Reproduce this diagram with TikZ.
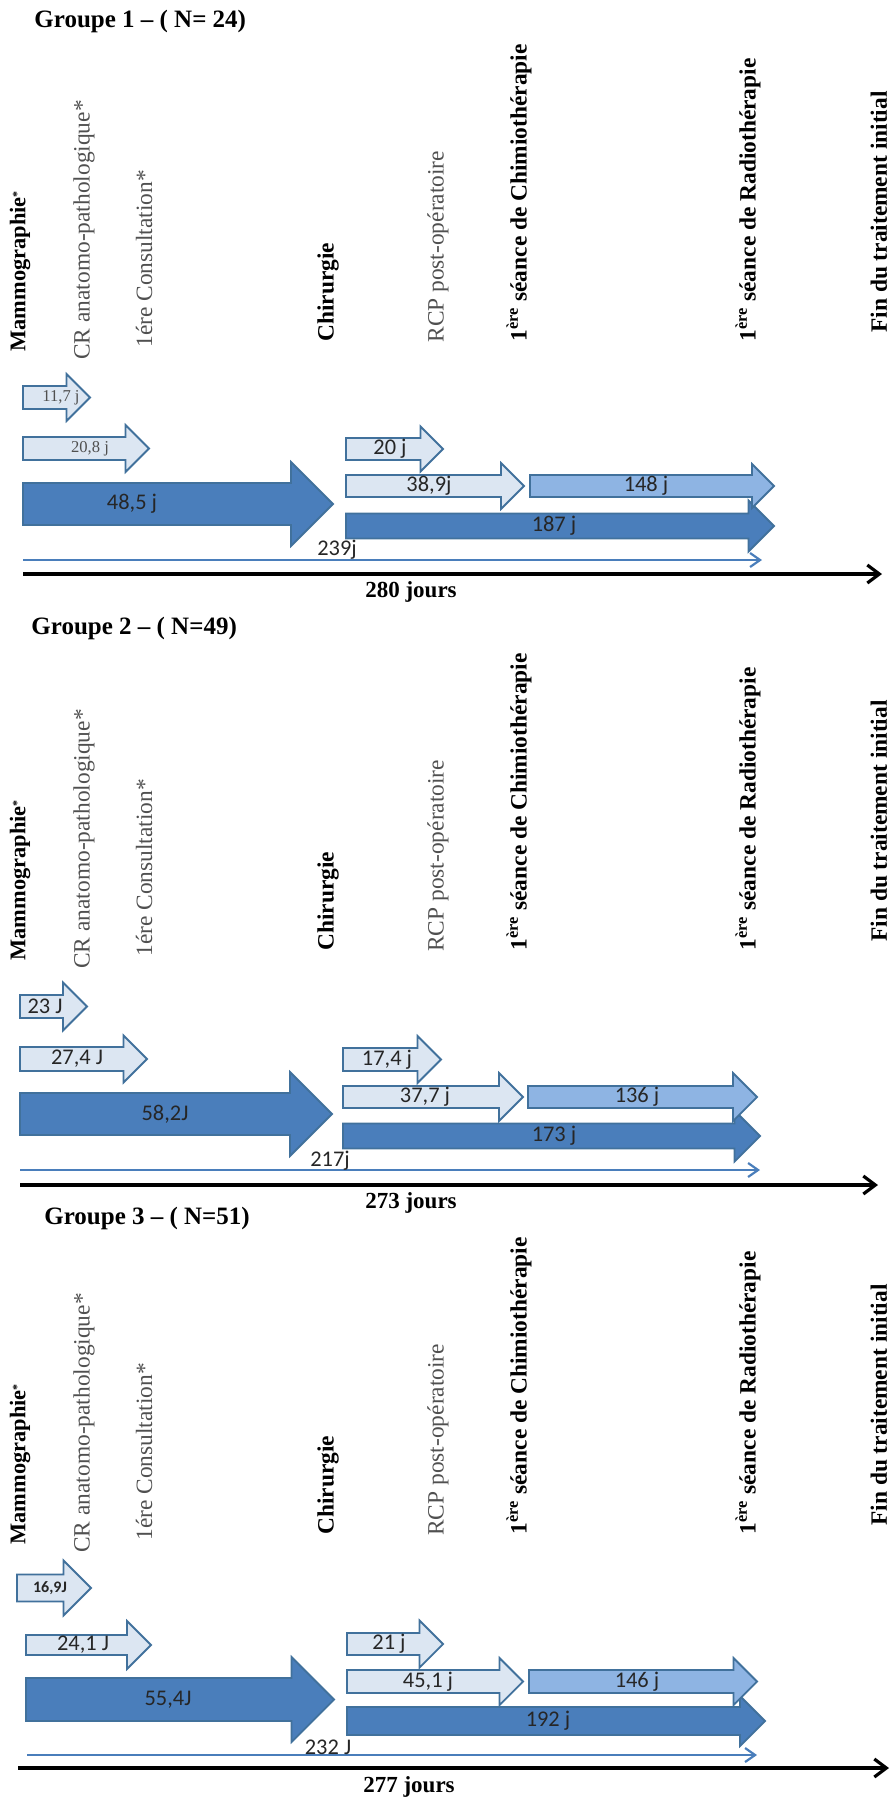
\documentclass[tikz,border=0pt]{standalone}
\usepackage{fontspec}
\setmainfont{Liberation Serif}
\newfontfamily\calibri{Carlito}
\usepackage{tikz}
\usetikzlibrary{arrows.meta}
\usepackage{xcolor}

\definecolor{bleuclair}{HTML}{DCE6F2}
\definecolor{bleumoyen}{HTML}{8EB4E3}
\definecolor{bleufonce}{HTML}{4A7EBB}
\definecolor{bord}{HTML}{41719C}
\definecolor{gristexte}{HTML}{505050}

% block arrow: name, style, start, tip, centre y, half shaft, half head, label x, label
\newcommand{\fleche}[9]{%
  \draw[#2] (#3,#5-#6) -- (#4-#7,#5-#6) -- (#4-#7,#5-#7) -- (#4,#5)
    -- (#4-#7,#5+#7) -- (#4-#7,#5+#6) -- (#3,#5+#6) -- cycle;
  \node[duree] (#1) at (#8,#5) {#9};}
\newcommand{\serifpetit}{\rmfamily\fontsize{8.3}{9}\selectfont\color{gristexte}}

\begin{document}
\begin{tikzpicture}[x=0.5pt, y=-0.5pt]
      \tikzstyle{claire} = [draw=bord, fill=bleuclair, line width=0.9pt]
      \tikzstyle{moyenne} = [draw=bord, fill=bleumoyen, line width=0.9pt]
      \tikzstyle{foncee} = [draw=bord, fill=bleufonce, line width=0.9pt]
      \tikzstyle{duree} = [inner sep=0pt, font=\calibri\fontsize{11.2}{12}\selectfont, text=black!85]
      \tikzstyle{etape} = [rotate=90, anchor=west, inner sep=0pt, font=\fontsize{11.7}{12}\selectfont]
      \tikzstyle{titre} = [anchor=west, inner sep=0pt, font=\bfseries\fontsize{12.5}{13}\selectfont]
      \tikzstyle{total} = [inner sep=0pt, font=\bfseries\fontsize{11.5}{12}\selectfont]
      \tikzstyle{ligne} = [draw=bleufonce, line width=1.1pt, -{Straight Barb[length=5pt,width=7pt]}]
      \tikzstyle{axe} = [draw=black, line width=1.6pt, -{Straight Barb[length=6pt,width=9pt]}]

      \useasboundingbox (0,0) rectangle (893,1800);

      % etapes
      \foreach \g/\dy in {A/0, B/609, C/1193} {
        \node[etape] (mammo\g) at (20,352+\dy) {\bfseries\fontsize{11.2}{12}\selectfont Mammographie{\fontsize{6}{6}\selectfont\raisebox{0.8ex}{*}}};
        \node[etape, text=gristexte] (cr\g) at (84,360+\dy) {CR anatomo-pathologique*};
        \node[etape, text=gristexte] (consult\g) at (144,348+\dy) {1ére Consultation*};
        \node[etape] (chir\g) at (328,342+\dy) {\bfseries Chirurgie};
        \node[etape, text=gristexte] (rcp\g) at (438,343+\dy) {RCP post-opératoire};
        \node[etape] (chimio\g) at (519,342+\dy) {\bfseries 1\textsuperscript{ère} séance de Chimiothérapie};
        \node[etape] (radio\g) at (748,342+\dy) {\bfseries 1\textsuperscript{ère} séance de Radiothérapie};
        \node[etape] (fin\g) at (879,333+\dy) {\bfseries Fin du traitement initial};
      }

      % groupe 1
      \node[titre] (titreA) at (34,21) {Groupe 1 – ( N= 24)};
      \fleche{mammochirA}{foncee}{23}{333}{504}{21}{42}{132}{48,5 j}
      \fleche{chirradioA}{foncee}{346}{774}{526}{12.5}{25.5}{554}{187 j}
      \fleche{chimioradioA}{moyenne}{530}{774}{486}{11}{22}{646}{148 j}
      \fleche{chirchimioA}{claire}{346}{524}{486}{11}{23}{429}{38,9j}
      \fleche{chirrcpA}{claire}{346}{443}{449}{11}{22.5}{390}{20 j}
      \fleche{mammoconsA}{claire}{23}{149}{448.5}{11.5}{23.5}{90}{\serifpetit 20,8 j}
      \fleche{mammocrA}{claire}{23}{90}{397.5}{11.5}{23.5}{61}{\serifpetit 11,7 j}
      \coordinate (debutA) at (23,560);
      \coordinate (finradioA) at (762,560);
      \draw[ligne] (debutA) -- (finradioA);
      \node[duree] (totalradioA) at (337,550) {239j};
      \coordinate (origineA) at (23,574);
      \coordinate (boutA) at (882,574);
      \draw[axe] (origineA) -- (boutA);
      \node[total] (joursA) at (411,592) {280 jours};

      % groupe 2
      \node[titre] (titreB) at (31,628) {Groupe 2 – ( N=49)};
      \fleche{mammochirB}{foncee}{20}{332}{1114}{21}{42}{165}{58,2J}
      \fleche{chirradioB}{foncee}{343}{760}{1136}{12.5}{25.5}{554}{173 j}
      \fleche{chimioradioB}{moyenne}{528}{757}{1097}{11}{24}{637}{136 j}
      \fleche{chirchimioB}{claire}{343}{523}{1097}{11}{24}{425}{37,7 j}
      \fleche{chirrcpB}{claire}{343}{441}{1059.5}{11.5}{23.5}{387}{17,4 j}
      \fleche{mammoconsB}{claire}{20}{147}{1059}{12}{23.5}{77}{27,4 J}
      \fleche{mammocrB}{claire}{20}{87}{1006.5}{11.5}{24}{45}{23 J}
      \coordinate (debutB) at (20,1170);
      \coordinate (finradioB) at (760,1170);
      \draw[ligne] (debutB) -- (finradioB);
      \node[duree] (totalradioB) at (330,1161) {217j};
      \coordinate (origineB) at (20,1185);
      \coordinate (boutB) at (878,1185);
      \draw[axe] (origineB) -- (boutB);
      \node[total] (joursB) at (411,1203) {273 jours};

      % groupe 3
      \node[titre] (titreC) at (44,1218) {Groupe 3 – ( N=51)};
      \fleche{mammochirC}{foncee}{26}{334}{1699.5}{21.5}{42.5}{168}{55,4J}
      \fleche{chirradioC}{foncee}{347}{765}{1721}{14}{25}{548}{192 j}
      \fleche{chimioradioC}{moyenne}{529}{757}{1681.5}{11.5}{23.5}{637}{146 j}
      \fleche{chirchimioC}{claire}{347}{523}{1681.5}{11.5}{23.5}{428}{45,1 j}
      \fleche{chirrcpC}{claire}{347}{443}{1644}{11}{23.5}{389}{21 j}
      \fleche{mammoconsC}{claire}{26}{151}{1645}{10}{24}{83}{24,1 J}
      \fleche{mammocrC}{claire}{17}{91}{1588}{13.5}{27.5}{50}{\bfseries\fontsize{8}{9}\selectfont 16,9J}
      \coordinate (debutC) at (27,1755);
      \coordinate (finradioC) at (757,1755);
      \draw[ligne] (debutC) -- (finradioC);
      \node[duree] (totalradioC) at (328,1747) {232 J};
      \coordinate (origineC) at (18,1768);
      \coordinate (boutC) at (889,1768);
      \draw[axe] (origineC) -- (boutC);
      \node[total] (joursC) at (409,1787) {277 jours};
    \end{tikzpicture}
\end{document}
